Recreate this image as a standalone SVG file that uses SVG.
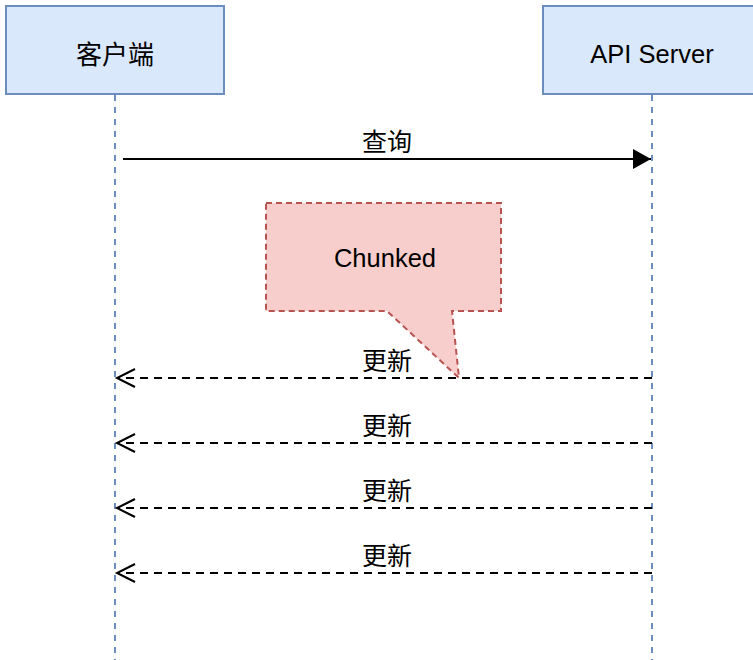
<svg xmlns="http://www.w3.org/2000/svg" width="753" height="660" viewBox="0 0 753 660">
<style>
.box{fill:#dae8fc;stroke:#6c8ebf;stroke-width:2}
.life{stroke:#6c8ebf;stroke-width:2;stroke-dasharray:6 6;fill:none}
.lbl{font-family:"Liberation Sans",Arial,"Noto Sans CJK SC",sans-serif;font-size:25.5px;fill:#000;text-anchor:middle}
.cjk{font-family:"Noto Sans CJK SC","Liberation Sans",sans-serif;font-size:25px;fill:#000;text-anchor:middle}
.msg{stroke:#000;stroke-width:2;fill:none}
.ret{stroke:#000;stroke-width:2;fill:none;stroke-dasharray:8 6}
</style>
<defs>
<marker id="fill" markerWidth="20" markerHeight="22" refX="18" refY="10" orient="auto" markerUnits="userSpaceOnUse">
<path d="M0,0 L18,10 L0,20 Z" fill="#000"/>
</marker>
<marker id="open" markerWidth="24" markerHeight="24" refX="19" refY="10" orient="auto" markerUnits="userSpaceOnUse">
<path d="M1,1 L19,10 L1,19" fill="none" stroke="#000" stroke-width="2"/>
</marker>
</defs>
<g id="client">
<rect class="box" x="6" y="6" width="218" height="88"/>
<text class="cjk" x="115" y="64" style="font-size:26px">客户端</text>
</g>
<g id="server">
<rect class="box" x="543" y="6" width="218" height="88"/>
<text class="lbl" x="652" y="63">API Server</text>
</g>
<g id="lifelines">
<line class="life" x1="115" y1="95" x2="115" y2="660"/>
<line class="life" x1="652" y1="95" x2="652" y2="660"/>
</g>
<g id="connectors">
<line class="msg" x1="123" y1="159" x2="651" y2="159" marker-end="url(#fill)"/>
<text class="cjk" x="387" y="151">查询</text>
<line class="ret" x1="652" y1="378" x2="117" y2="378" marker-end="url(#open)"/>
<text class="cjk" x="387" y="370">更新</text>
<line class="ret" x1="652" y1="443" x2="117" y2="443" marker-end="url(#open)"/>
<text class="cjk" x="387" y="435">更新</text>
<line class="ret" x1="652" y1="508" x2="117" y2="508" marker-end="url(#open)"/>
<text class="cjk" x="387" y="500">更新</text>
<line class="ret" x1="652" y1="573" x2="117" y2="573" marker-end="url(#open)"/>
<text class="cjk" x="387" y="565">更新</text>
</g>
<g id="callout">
<path d="M266,203 L501,203 L501,311 L452,311 L459,378 L387,311 L266,311 Z" fill="#f8cecc" stroke="#b85450" stroke-width="2" stroke-dasharray="6 4"/>
<text class="lbl" x="385" y="267">Chunked</text>
</g>
</svg>
